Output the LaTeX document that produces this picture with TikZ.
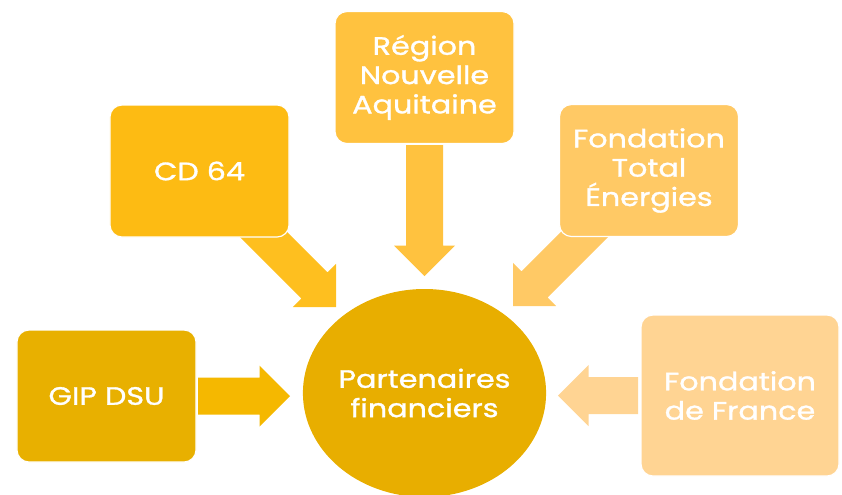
\documentclass[tikz,border=0pt]{standalone}
\usepackage{fontspec}
\setmainfont{Poppins}[FakeStretch=1.2, FakeBold=1.2]
\usetikzlibrary{calc}
\usetikzlibrary{shapes.geometric}

\definecolor{gipcol}{HTML}{E8B000}
\definecolor{gipar}{HTML}{F5B800}
\definecolor{cdcol}{HTML}{FDBB13}
\definecolor{cdar}{HTML}{FEBF1F}
\definecolor{regcol}{HTML}{FFC23F}
\definecolor{totcol}{HTML}{FFC965}
\definecolor{frcol}{HTML}{FFD493}
\definecolor{midcol}{HTML}{E8AE00}

% fat arrow: tail, tip, colour
\newcommand{\fatarrow}[3]{%
  \fill[#3] ($(#1)!0.555cm!90:(#2)$)
    -- ($($(#2)!0.915cm!(#1)$)!0.555cm!90:(#2)$)
    -- ($($(#2)!0.915cm!(#1)$)!0.915cm!90:(#2)$)
    -- (#2)
    -- ($($(#2)!0.915cm!(#1)$)!0.915cm!-90:(#2)$)
    -- ($($(#2)!0.915cm!(#1)$)!0.555cm!-90:(#2)$)
    -- ($(#1)!0.555cm!-90:(#2)$) -- cycle;}

\begin{document}
\begin{tikzpicture}[x=0.03cm, y=-0.03cm,
  partner/.style={rectangle, rounded corners=0.36cm, draw=white, line width=1pt, text=white, align=center, minimum width=5.37cm, minimum height=3.96cm, font=\fontsize{21.5}{25}\selectfont},
  centre/.style={ellipse, fill=midcol, text=white, align=center, inner sep=0pt, minimum width=7.29cm, minimum height=6.24cm, font=\fontsize{21.5}{25}\selectfont}]
	\useasboundingbox (0,0) rectangle (842,494);

	% tips of the arrows
	\coordinate (tipgip) at (290,396);
	\coordinate (tipcd) at (336,307);
	\coordinate (tipreg) at (424.5,276);
	\coordinate (tiptot) at (513,306);
	\coordinate (tipfr) at (558,395.5);
	\coordinate (tailcd) at (251,222);
	\coordinate (tailtot) at (598,221);
	\coordinate (tailgip) at (198,396);
	\coordinate (tailreg) at (424.5,145);
	\coordinate (tailfr) at (638,395.5);

	% arrows
	\fatarrow{tailgip}{tipgip}{gipar}
	\fatarrow{tailcd}{tipcd}{cdar}
	\fatarrow{tailreg}{tipreg}{regcol}
	\fatarrow{tailtot}{tiptot}{totcol}
	\fatarrow{tailfr}{tipfr}{frcol}

	% nodes
	\node[partner, fill=cdcol] (cd) at (199.5,171) {CD 64};
	\node[partner, fill=regcol] (reg) at (424.5,77.5) {Région\\Nouvelle\\Aquitaine};
	\node[partner, fill=totcol] (tot) at (649,170.5) {Fondation\\Total\\Énergies};
	\node[partner, fill=gipcol] (gip) at (106.5,396) {GIP DSU};
	\node[partner, fill=frcol, minimum width=5.94cm, minimum height=4.83cm] (fr) at (740,395.5) {Fondation\\de France};
	\node[centre] (part) at (424.5,393) {Partenaires\\financiers};
\end{tikzpicture}
\end{document}
